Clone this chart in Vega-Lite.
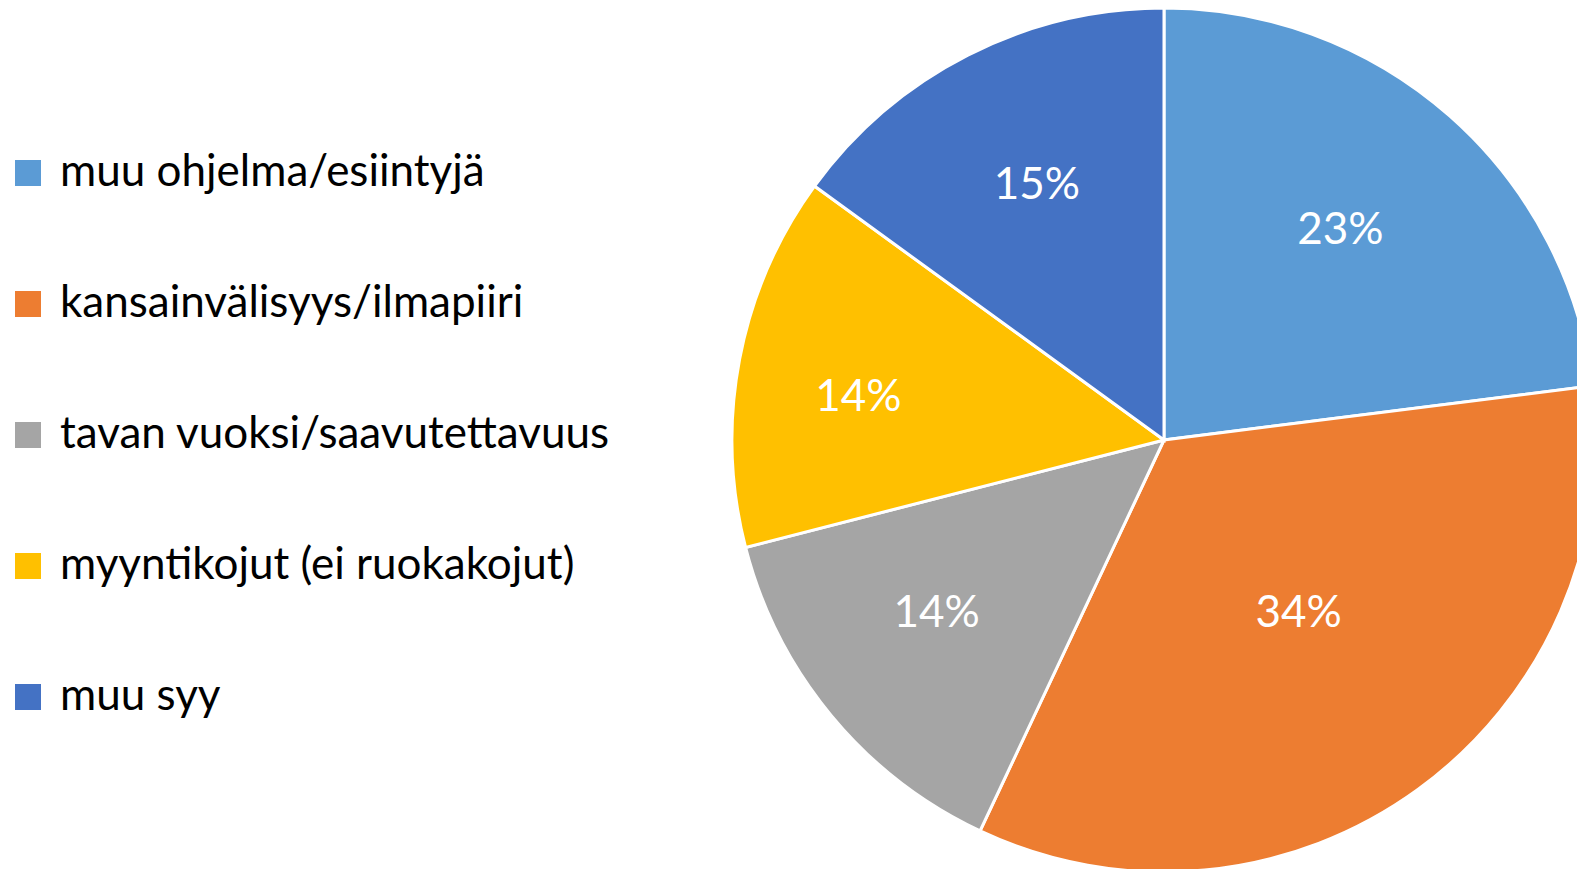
{
  "$schema": "https://vega.github.io/schema/vega-lite/v6.json",
  "autosize": {"type": "none"},
  "width": 864,
  "height": 864,
  "padding": {"left": 732, "top": 8, "right": 0, "bottom": 0},
  "background": "white",
  "config": {"view": {"stroke": null}, "font": "Lato"},
  "data": {"values": [
    {"category": "muu ohjelma/esiintyjä", "p": 0.23, "k": 1},
    {"category": "kansainvälisyys/ilmapiiri", "p": 0.34, "k": 2},
    {"category": "tavan vuoksi/saavutettavuus", "p": 0.14, "k": 3},
    {"category": "myyntikojut (ei ruokakojut)", "p": 0.14, "k": 4},
    {"category": "muu syy", "p": 0.15, "k": 5}
  ]},
  "encoding": {
    "theta": {"field": "p", "type": "quantitative", "stack": true},
    "order": {"field": "k", "type": "quantitative"}
  },
  "layer": [
    {
      "mark": {"type": "arc", "radius": 432, "stroke": "white", "strokeWidth": 3},
      "encoding": {
        "color": {
          "field": "category", "type": "nominal",
          "scale": {
            "domain": ["muu ohjelma/esiintyjä", "kansainvälisyys/ilmapiiri", "tavan vuoksi/saavutettavuus", "myyntikojut (ei ruokakojut)", "muu syy"],
            "range": ["#5B9BD5", "#ED7D31", "#A5A5A5", "#FFC000", "#4472C4"]
          },
          "legend": {
            "title": null,
            "orient": "none",
            "legendX": -726,
            "legendY": 143,
            "symbolType": "square",
            "symbolSize": 676,
            "symbolStrokeWidth": 0,
            "labelFontSize": 44,
            "labelFont": "Lato",
            "labelColor": "black",
            "labelOffset": 10,
            "rowPadding": 87,
            "labelLimit": 1000
          }
        }
      }
    },
    {
      "mark": {"type": "text", "radius": 282, "dx": -10, "dy": 3, "fontSize": 44, "color": "white", "font": "Lato"},
      "encoding": {"text": {"condition": {"test": "datum.k == 1", "field": "p", "type": "quantitative", "format": ".0%"}, "value": ""}}
    },
    {
      "mark": {"type": "text", "radius": 217, "dx": 7, "dy": -2, "fontSize": 44, "color": "white", "font": "Lato"},
      "encoding": {"text": {"condition": {"test": "datum.k == 2", "field": "p", "type": "quantitative", "format": ".0%"}, "value": ""}}
    },
    {
      "mark": {"type": "text", "radius": 282, "dx": -10, "dy": -6, "fontSize": 44, "color": "white", "font": "Lato"},
      "encoding": {"text": {"condition": {"test": "datum.k == 3", "field": "p", "type": "quantitative", "format": ".0%"}, "value": ""}}
    },
    {
      "mark": {"type": "text", "radius": 309, "dx": -2, "dy": 16, "fontSize": 44, "color": "white", "font": "Lato"},
      "encoding": {"text": {"condition": {"test": "datum.k == 4", "field": "p", "type": "quantitative", "format": ".0%"}, "value": ""}}
    },
    {
      "mark": {"type": "text", "radius": 282, "dx": 1, "dy": -3, "fontSize": 44, "color": "white", "font": "Lato"},
      "encoding": {"text": {"condition": {"test": "datum.k == 5", "field": "p", "type": "quantitative", "format": ".0%"}, "value": ""}}
    }
  ]
}
